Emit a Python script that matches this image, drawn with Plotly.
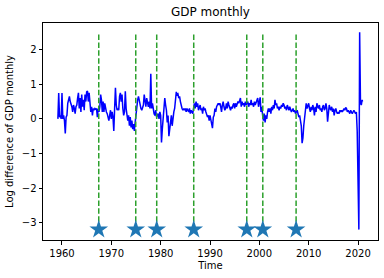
import numpy as np
import plotly.graph_objects as go

# Bimonthly readings, starting 1959.17, step 1/6 year
gdp_values = [
    0.0, 0.75, 0.05, 0.1, 0.0,                 # 1959
    0.75, 0.0, 0.1, -0.05, -0.42, 0.05,        # 1960
    0.1, 0.45, 0.62, 0.65, 0.5, 0.45,          # 1961
    0.35, 0.2, 0.4, 0.3, 0.15, 0.35,           # 1962
    0.4, 0.6, 0.75, 0.3, 0.6, 0.2,             # 1963
    0.7, 0.35, 0.55, 0.25, 0.7, 0.5,           # 1964
    0.78, 0.8, 0.5, 0.75, 0.4, 0.2,            # 1965
    0.35, 0.1, 0.3, 0.25, 0.3, 0.28,           # 1966
    0.3, 0.05, 0.3, 0.2, 0.35, 0.7,            # 1967
    0.55, 0.2, 0.5, 0.2, 0.45, 0.3,            # 1968
    0.2, 0.15, 0.05, -0.05, 0.1, 0.25,         # 1969
    0.0, 0.2, 0.05, -0.35, 0.3, 0.9,           # 1970
    0.4, 0.25, 0.3, 0.25, 0.65, 0.75,          # 1971
    0.5, 0.7, 0.3, 0.1, 0.2, 0.8,              # 1972
    0.3, 0.1, -0.05, 0.1, -0.2, 0.05,          # 1973
    -0.25, -0.05, -0.3, -0.15, -0.35, -0.1,    # 1974
    0.15, 0.35, 0.55, 0.65, 0.5, 0.4,          # 1975
    0.3, 0.25, 0.3, 0.4, 0.7, 0.55,            # 1976
    0.35, 0.6, 0.5, 0.35, 0.5, 0.3,            # 1977
    1.3, 0.3, 0.45, 0.2, 0.15, 0.1,            # 1978
    0.25, 0.05, 0.1, 0.15, 0.0, 0.2,           # 1979
    0.1, -0.68, -0.3, 0.1, 0.55, 0.6,          # 1980
    0.4, 0.25, -0.1, 0.1, -0.5, -0.3,          # 1981
    -0.15, 0.1, -0.2, 0.05, 0.2, 0.3,          # 1982
    0.55, 0.78, 0.7, 0.72, 0.6, 0.65,          # 1983
    0.5, 0.35, 0.3, 0.25, 0.3, 0.25,           # 1984
    0.3, 0.2, 0.3, 0.25, 0.2, 0.3,             # 1985
    0.15, 0.25, 0.2, 0.15, 0.3, 0.45,          # 1986
    0.3, 0.5, 0.35, 0.45, 0.25, 0.35,          # 1987
    0.4, 0.25, 0.3, 0.15, 0.35, 0.25,          # 1988
    0.3, 0.2, 0.15, 0.05, 0.1, -0.05,          # 1989
    0.1, 0.0, -0.1, -0.27, 0.05, 0.1,          # 1990
    0.3, 0.2, 0.35, 0.4, 0.45, 0.4,            # 1991
    0.45, 0.35, 0.2, 0.4, 0.5, 0.35,           # 1992
    0.25, 0.3, 0.45, 0.3, 0.5, 0.4,            # 1993
    0.3, 0.25, 0.35, 0.3, 0.4, 0.45,           # 1994
    0.3, 0.45, 0.35, 0.4, 0.5, 0.45,           # 1995
    0.55, 0.6, 0.35, 0.5, 0.4, 0.45,           # 1996
    0.35, 0.5, 0.4, 0.45, 0.5, 0.35,           # 1997
    0.45, 0.4, 0.55, 0.4, 0.45, 0.35,          # 1998
    0.5, 0.4, 0.45, 0.5, 0.6, 0.35,            # 1999
    0.55, 0.62, 0.2, 0.35, 0.1, -0.05,         # 2000
    0.15, -0.1, 0.1, 0.0, 0.2, 0.3,            # 2001
    0.2, 0.3, 0.15, 0.35, 0.25, 0.4,           # 2002
    0.3, 0.55, 0.4, 0.45, 0.3, 0.35,           # 2003
    0.25, 0.35, 0.3, 0.4, 0.35, 0.45,          # 2004
    0.4, 0.3, 0.35, 0.25, 0.4, 0.3,            # 2005
    0.25, 0.35, 0.3, 0.2, 0.25, 0.3,           # 2006
    0.2, 0.25, 0.15, 0.2, 0.25, 0.15,          # 2007
    0.05, 0.1, -0.1, -0.2, -0.7, -0.55,        # 2008
    -0.2, 0.0, 0.2, 0.45, 0.3, 0.35,           # 2009
    0.45, 0.3, 0.2, 0.35, 0.25, 0.4,           # 2010
    0.3, 0.1, 0.35, 0.2, 0.45, 0.35,           # 2011
    0.3, 0.4, 0.25, 0.3, 0.2, 0.35,            # 2012
    0.4, 0.25, 0.3, 0.45, 0.3, -0.08,          # 2013
    0.35, 0.4, 0.3, 0.25, 0.35, 0.2,           # 2014
    0.3, 0.1, 0.25, 0.3, 0.2, 0.15,            # 2015
    0.2, 0.15, 0.25, 0.2, 0.25, 0.2,           # 2016
    0.25, 0.3, 0.25, 0.33, 0.3, 0.2,           # 2017
    0.25, 0.2, 0.15, 0.25, 0.2, 0.15,          # 2018
    0.2, 0.25, 0.2, 0.15, 0.2, -0.35,          # 2019
]
gdp_start = 1959 + 1 / 6

covid_time = [2020.17, 2020.33, 2020.5, 2020.67, 2020.83, 2020.92]
covid_values = [-3.2, 2.5, 0.45, 0.4, 0.55, 0.5]

recession_years = [1967.45, 1974.95, 1979.2, 1986.7, 1997.45, 2000.7, 2007.45]

x_ticks = [1960, 1970, 1980, 1990, 2000, 2010, 2020]
y_ticks = [-3, -2, -1, 0, 1, 2]

time = list(gdp_start + np.arange(len(gdp_values)) / 6) + covid_time
values = gdp_values + covid_values
ymin, ymax = min(values), max(values)

fig = go.Figure()
fig.add_trace(go.Scatter(x=time, y=values, mode="lines",
                         line=dict(color="#0000ff", width=1.5), showlegend=False))

vx, vy = [], []
for r in recession_years:
    vx += [r, r, None]
    vy += [ymin, ymax, None]
fig.add_trace(go.Scatter(x=vx, y=vy, mode="lines",
                         line=dict(color="#2ca02c", width=1.5, dash="5.5px,2.4px"),
                         showlegend=False))
fig.add_trace(go.Scatter(x=recession_years, y=[ymin] * len(recession_years),
                         mode="markers",
                         marker=dict(symbol="star", size=14, color="#1f77b4",
                                     line=dict(width=0)),
                         showlegend=False))

axis_common = dict(showline=True, linecolor="black", linewidth=1, mirror=True,
                   ticks="outside", ticklen=3.5, tickwidth=1, tickcolor="black",
                   showgrid=False, zeroline=False, automargin=False,
                   tickfont=dict(family="DejaVu Sans", size=10, color="black"))

fig.update_layout(
    width=384, height=278,
    margin=dict(l=43, r=5.5, t=22.5, b=38, autoexpand=False),
    paper_bgcolor="white", plot_bgcolor="white",
    title=dict(text="GDP monthly", x=0.5, xref="paper", xanchor="center",
               y=1 - 11.5 / 278, yref="container", yanchor="middle", automargin=False,
               font=dict(family="DejaVu Sans", size=12, color="black")),
    xaxis=dict(range=[1956.15, 2024.05], tickvals=x_ticks,
               ticktext=[str(t) for t in x_ticks],
               title=dict(text="Time", standoff=4,
                          font=dict(family="DejaVu Sans", size=10, color="black")),
               **axis_common),
    yaxis=dict(range=[-3.5, 2.77], tickvals=y_ticks,
               title=dict(text="Log difference of GDP monthly", standoff=6,
                          font=dict(family="DejaVu Sans", size=10, color="black")),
               **axis_common),
)

fig.write_html("out.html", config={"displayModeBar": False},
               post_script="document.body.style.margin='0';")
